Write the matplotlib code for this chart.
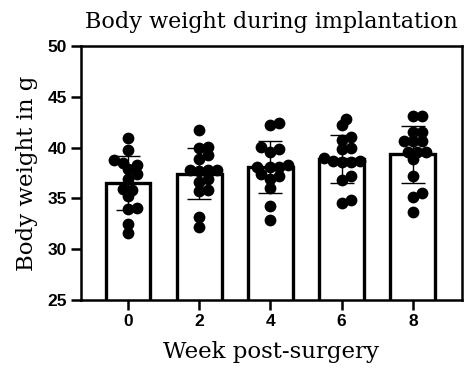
import matplotlib
matplotlib.use("Agg")
import matplotlib.pyplot as plt
import numpy as np

# Body weight (g) of each animal, per week after surgery
weeks = ["0", "2", "4", "6", "8"]
week0 = [40.9, 39.8, 38.8, 38.5, 38.3, 37.9, 37.4, 36.9, 35.8, 35.9, 35.2, 34.1, 34.0, 32.5, 31.6]
week2 = [41.7, 40.0, 40.1, 38.9, 39.3, 37.8, 37.8, 37.8, 37.7, 36.6, 36.9, 35.8, 35.7, 33.2, 32.2]
week4 = [42.4, 42.2, 40.1, 39.6, 39.9, 38.3, 38.1, 38.1, 38.1, 37.4, 37.2, 36.9, 36.0, 34.3, 32.9]
week6 = [42.8, 42.2, 41.0, 40.7, 40.0, 39.9, 39.0, 38.7, 38.7, 38.6, 38.6, 37.2, 36.8, 34.8, 34.5]
week8 = [43.1, 43.1, 41.5, 41.5, 40.6, 40.6, 40.6, 39.6, 39.6, 39.6, 38.9, 37.2, 35.5, 35.1, 33.7]
groups = [week0, week2, week4, week6, week8]

X_PX = 71.25   # pixels per category
Y_PX = 10.16   # pixels per gram
MIN_DIST = 7.5 # allowed centre distance between dots, pixels


def swarm_offsets(values, step=4.5):
    """Simple beeswarm: push each dot sideways until it clears the others."""
    order = np.argsort(values)
    placed = []
    offsets = np.zeros(len(values))
    for i in order:
        y = values[i] * Y_PX
        k = 0
        while True:
            cands = [0.0] if k == 0 else [k * step, -k * step]
            found = None
            for c in cands:
                if all((c - px) ** 2 + (y - py) ** 2 >= MIN_DIST ** 2 for px, py in placed):
                    found = c
                    break
            if found is not None:
                break
            k += 1
        placed.append((found, y))
        offsets[i] = found / X_PX
    return offsets


plt.rcParams["font.family"] = ["DejaVu Serif"]
fig = plt.figure(figsize=(4.66, 3.8), dpi=100)
ax = fig.add_axes([0.1738, 0.2105, 0.8176, 0.6685])

x = np.arange(len(weeks))
means = [np.mean(g) for g in groups]
sds = [np.std(g, ddof=1) for g in groups]

ax.bar(x, means, width=0.63, color="white", edgecolor="black", linewidth=2.4, zorder=1)
ax.errorbar(x, means, yerr=sds, fmt="none", ecolor="black", elinewidth=1.0,
            capsize=8.5, capthick=1.0, zorder=2)
for xi, g in zip(x, groups):
    vals = np.array(g)
    ax.scatter(xi + swarm_offsets(vals), vals, s=72, color="black",
               linewidths=0, zorder=3)

ax.set_xlim(-0.66, 4.69)
ax.set_ylim(25, 50)
ax.set_yticks([25, 30, 35, 40, 45, 50])
ax.set_xticks(x)
ax.set_xticklabels(weeks)

for side in ["left", "bottom", "top", "right"]:
    ax.spines[side].set_linewidth(1.8)
ax.tick_params(axis="both", width=1.8, length=7, direction="out")
ax.tick_params(axis="y", pad=3)
ax.tick_params(axis="x", pad=3)
for lab in ax.get_xticklabels() + ax.get_yticklabels():
    lab.set_fontfamily("Liberation Sans")
    lab.set_fontweight("bold")
    lab.set_fontsize(12.5)

ax.set_title("Body weight during implantation", fontsize=16, pad=13)
ax.set_xlabel("Week post-surgery", fontsize=16.5, labelpad=9)
ax.set_ylabel("Body weight in g", fontsize=16.5, labelpad=7)

fig.savefig("out.png", dpi=100)
